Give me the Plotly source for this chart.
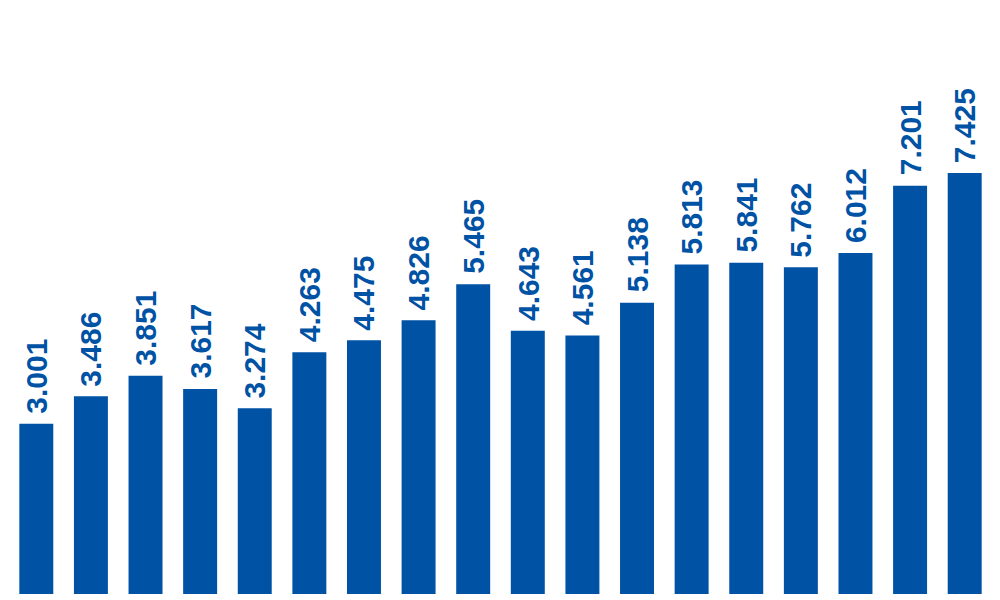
import plotly.graph_objects as go

# bar values, left to right
categories = [f"c{i}" for i in range(1, 19)]
values = [3.001, 3.486, 3.851, 3.617, 3.274, 4.263, 4.475, 4.826, 5.465,
          4.643, 4.561, 5.138, 5.813, 5.841, 5.762, 6.012, 7.201, 7.425]
labels = [f"{v:.3f}" for v in values]

BLUE = "#0052A5"

fig = go.Figure(go.Bar(
    x=categories,
    y=values,
    marker=dict(color=BLUE, line=dict(width=0)),
    hoverinfo="x+y",
))

# rotated value labels sitting a little above each bar
for c, v, t in zip(categories, values, labels):
    fig.add_annotation(
        x=c, y=v, text=t,
        textangle=-90,
        xanchor="center", yanchor="bottom",
        yshift=8,
        showarrow=False,
        font=dict(family="Liberation Sans", size=30, color=BLUE, weight="bold"),
    )

# the page body adds ~8px offset, margins compensate for it
fig.update_layout(
    width=1000,
    height=600,
    margin=dict(l=1, r=16, t=0, b=14),
    plot_bgcolor="white",
    paper_bgcolor="white",
    bargap=0.378,
    showlegend=False,
    xaxis=dict(visible=False),
    yaxis=dict(visible=False, range=[0, 10.335]),
)

fig.write_html("out.html")
